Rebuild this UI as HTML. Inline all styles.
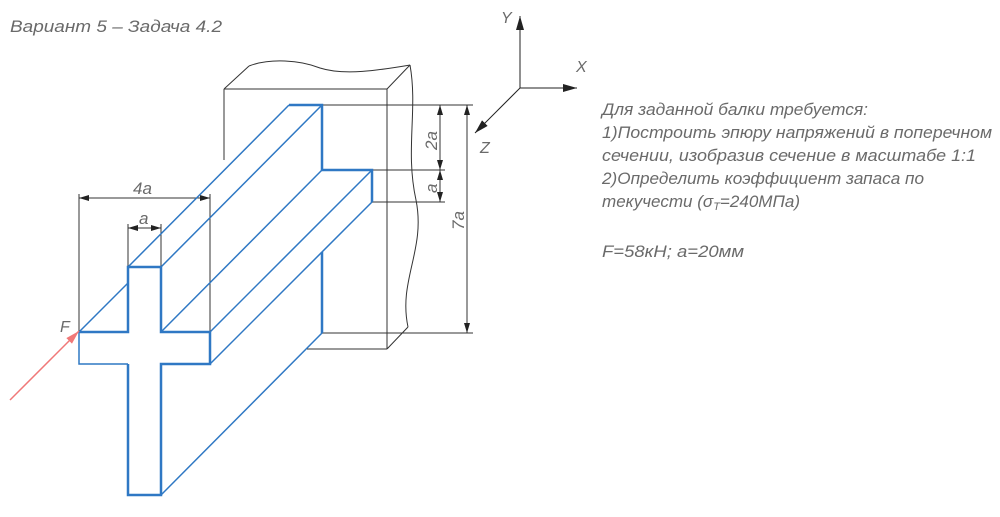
<!DOCTYPE html>
<html><head><meta charset="utf-8"><style>
html,body{margin:0;padding:0;background:#fff;}
svg{display:block}
text{font-family:"Liberation Sans","DejaVu Sans",sans-serif;font-style:italic;fill:#6a6a6a;}
</style></head><body>
<svg width="1000" height="517" viewBox="0 0 1000 517" xmlns="http://www.w3.org/2000/svg">
<defs>
<marker id="ar" markerWidth="10" markerHeight="6" refX="10" refY="3" orient="auto" markerUnits="userSpaceOnUse"><path d="M0,0 L10,3 L0,6z" fill="#222"/></marker>
<marker id="ar2" markerWidth="14" markerHeight="8" refX="14" refY="4" orient="auto" markerUnits="userSpaceOnUse"><path d="M0,0 L14,4 L0,8z" fill="#222"/></marker>
<marker id="arr" markerWidth="14" markerHeight="8" refX="14" refY="4" orient="auto" markerUnits="userSpaceOnUse"><path d="M0,0 L14,4 L0,8z" fill="#f07878"/></marker>
</defs>
<text x="10" y="32" font-size="17" textLength="212" lengthAdjust="spacingAndGlyphs">Вариант 5 – Задача 4.2</text>

<!-- wall -->
<g stroke="#333" stroke-width="1" fill="none">
<line x1="224" y1="89" x2="387" y2="89"/>
<line x1="224" y1="89" x2="224" y2="160"/>
<line x1="387" y1="89" x2="387" y2="349"/>
<line x1="307" y1="349" x2="387" y2="349"/>
<line x1="224" y1="89" x2="249" y2="66"/>
<line x1="387" y1="89" x2="410" y2="65"/>
<line x1="387" y1="349" x2="408" y2="327"/>
<path d="M249,66 C270,58 300,60 320,68 C345,76 380,70 410,65"/>
<path d="M410,65 C418,110 405,150 416,200 C426,250 398,280 408,327"/>
</g>

<!-- dimensions -->
<g stroke="#333" stroke-width="1" fill="none">
<line x1="322" y1="105" x2="473" y2="105"/>
<line x1="372" y1="170" x2="445" y2="170"/>
<line x1="372" y1="202" x2="445" y2="202"/>
<line x1="322" y1="333" x2="473" y2="333"/>
<line x1="440" y1="137" x2="440" y2="105" marker-end="url(#ar)"/>
<line x1="440" y1="137" x2="440" y2="170" marker-end="url(#ar)"/>
<line x1="440" y1="186" x2="440" y2="170" marker-end="url(#ar)"/>
<line x1="440" y1="186" x2="440" y2="202" marker-end="url(#ar)"/>
<line x1="467" y1="219" x2="467" y2="105" marker-end="url(#ar)"/>
<line x1="467" y1="219" x2="467" y2="333" marker-end="url(#ar)"/>
<line x1="79" y1="332" x2="79" y2="194"/>
<line x1="210" y1="332" x2="210" y2="194"/>
<line x1="144" y1="198" x2="79" y2="198" marker-end="url(#ar)"/>
<line x1="144" y1="198" x2="210" y2="198" marker-end="url(#ar)"/>
<line x1="128" y1="267" x2="128" y2="224"/>
<line x1="161" y1="267" x2="161" y2="224"/>
<line x1="144" y1="228" x2="128" y2="228" marker-end="url(#ar)"/>
<line x1="144" y1="228" x2="161" y2="228" marker-end="url(#ar)"/>
</g>
<text x="133" y="194" font-size="17">4a</text>
<text x="139" y="224" font-size="17">a</text>
<text font-size="17" transform="translate(437,150) rotate(-90)">2a</text>
<text font-size="17" transform="translate(437,193) rotate(-90)">a</text>
<text font-size="17" transform="translate(464,230) rotate(-90)">7a</text>

<!-- axes -->
<g stroke="#222" stroke-width="1" fill="none">
<line x1="520" y1="88" x2="520" y2="16" marker-end="url(#ar2)"/>
<line x1="520" y1="88" x2="577" y2="88" marker-end="url(#ar2)"/>
<line x1="520" y1="88" x2="475" y2="133" marker-end="url(#ar2)"/>
</g>
<text x="501" y="23" font-size="16">Y</text>
<text x="576" y="72" font-size="16">X</text>
<text x="480" y="153" font-size="16">Z</text>

<!-- beam -->
<g stroke="#2f78c4" stroke-width="1.5" fill="none" stroke-linejoin="miter">
<line x1="79" y1="332" x2="128" y2="283"/>
<line x1="128" y1="267" x2="289" y2="105"/>
<line x1="161" y1="267" x2="322" y2="105"/>
<line x1="161" y1="332" x2="322" y2="170"/>
<line x1="210" y1="332" x2="372" y2="170"/>
<line x1="210" y1="364" x2="372" y2="202"/>
<line x1="161" y1="495" x2="322" y2="333"/>
</g>
<g stroke="#2f78c4" stroke-width="2.5" fill="none">
<polyline points="289,105 322,105 322,170 372,170 372,202"/>
<line x1="322" y1="252" x2="322" y2="333"/>
<polyline points="79,332 128,332 128,267 161,267 161,332 210,332 210,364 161,364 161,495 128,495 128,364"/>
</g>
<polyline points="128,364 79,364 79,332" stroke="#2f78c4" stroke-width="1.5" fill="none"/>

<!-- force -->
<line x1="10" y1="400" x2="79" y2="331" stroke="#f07878" stroke-width="1.5" marker-end="url(#arr)"/>
<text x="60" y="332" font-size="16">F</text>

<!-- text -->
<g font-size="17">
<text x="602" y="115" textLength="266" lengthAdjust="spacingAndGlyphs">Для заданной балки требуется:</text>
<text x="602" y="138" textLength="390" lengthAdjust="spacingAndGlyphs">1)Построить эпюру напряжений в поперечном</text>
<text x="602" y="161" textLength="374" lengthAdjust="spacingAndGlyphs">сечении, изобразив сечение в масштабе 1:1</text>
<text x="602" y="184" textLength="322" lengthAdjust="spacingAndGlyphs">2)Определить коэффициент запаса по</text>
<text x="602" y="207" textLength="198" lengthAdjust="spacingAndGlyphs">текучести (σ<tspan font-size="11" dy="3">T</tspan><tspan dy="-3">=240МПа)</tspan></text>
<text x="602" y="257" textLength="142" lengthAdjust="spacingAndGlyphs">F=58кН;  a=20мм</text>
</g>
</svg>
</body></html>
